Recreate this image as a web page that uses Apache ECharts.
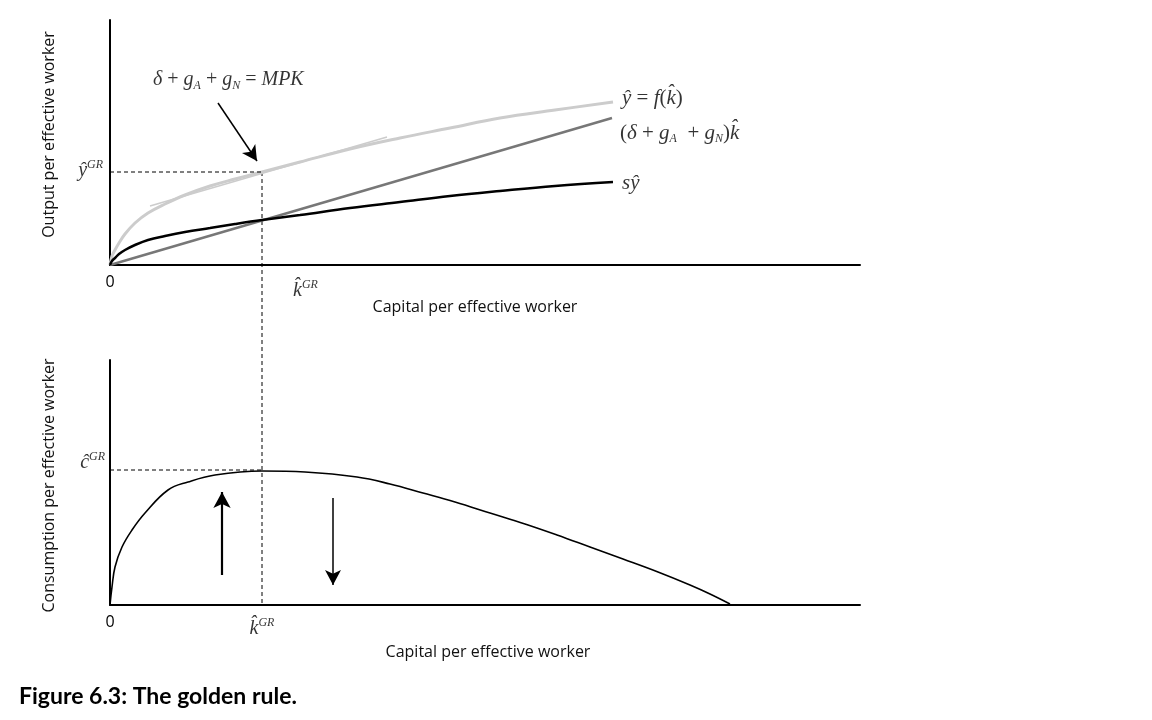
<!DOCTYPE html>
<html><head><meta charset="utf-8">
<script src="https://cdn.jsdelivr.net/npm/echarts@6/dist/echarts.min.js"></script>
<style>html,body{margin:0;padding:0;background:#fff}#c{width:1152px;height:720px}</style>
</head><body><div id="c"></div>
<script>
// ---- data (k = capital per effective worker, arbitrary units) ----
const kF   = [0, 2, 5, 9, 15, 25, 38, 55, 75, 100, 125, 152, 190, 240, 290, 340, 390, 445, 503];
const fOut = [0, 9, 15, 22, 31, 42, 52, 61, 70, 79, 86, 93, 103, 116, 127, 137, 147, 155, 163];
const kS   = [0, 2, 5, 9, 15, 25, 38, 55, 75, 100, 125, 152, 190, 240, 290, 340, 390, 445, 503];
const sOut = [0, 4, 7, 11, 15, 20, 25, 29, 33, 37, 41, 45, 50, 57, 63, 69, 74, 79, 83];
const kDep = [0, 502];
const dep  = [0, 147];
const kTan = [40, 277];
const tanV = [59, 128];
const kC   = [0, 2, 5, 12, 22, 35, 58, 78, 105, 152, 195, 247, 280, 313, 345, 380, 415, 447, 480, 513, 548, 580, 600, 620];
const cons = [0, 18, 38, 58, 75, 92, 115, 123, 130, 134, 133, 128, 121, 112, 103, 92, 81, 70, 58, 46, 33, 20, 11, 1];
const kGR = 152, yGR = 93, cGR = 135;
const xTicks = ['0'];

const zip = (a, b) => a.map((v, i) => [v, b[i]]);
const serif = 'Liberation Serif';
const sans = 'Open Sans';
const HAT = '\u0302';

const richMath = {
  n: { fontStyle: 'normal' },
  s: { fontSize: 12, verticalAlign: 'bottom', lineHeight: 10 },
  p: { fontSize: 12, verticalAlign: 'top', lineHeight: 12 }
};
function lab(value, text, pos, size) {
  return {
    value: value,
    label: {
      show: true, position: pos, distance: 0, formatter: text,
      fontFamily: serif, fontStyle: 'italic', fontSize: size || 21, color: '#000',
      lineHeight: 24, rich: richMath
    }
  };
}
const topLabels = [
  lab([43, 185], '{i|δ} {n|+} g{s|A}{n| + }g{s|N} {n|=} MPK', 'right', 20),
  lab([512, 167], 'y' + HAT + ' {n|=} f{n|(}k' + HAT + '{n|)}', 'right'),
  lab([510, 132], '{n|(}δ {n|+} g{s|A}  {n|+} g{s|N}{n|)}k' + HAT, 'right'),
  lab([512, 82], 'sy' + HAT, 'right'),
  lab([-7, 94], 'y' + HAT + '{p|GR}', 'left', 20),
  lab([183, -26], 'k' + HAT + '{p|GR}', 'right', 20)
];
const botLabels = [
  lab([-5, 142], 'c' + HAT + '{p|GR}', 'left', 20),
  lab([152, -24], 'k' + HAT + '{p|GR}', 'inside', 20)
];

const axisLine = { show: true, onZero: false, lineStyle: { color: '#000', width: 2 } };
function xAx(grid, gap, pad) {
  return {
    type: 'value', gridIndex: grid, min: 0, max: 750, interval: 750,
    axisLine: axisLine, axisTick: { show: false }, splitLine: { show: false },
    axisLabel: { formatter: v => (v === 0 ? xTicks[0] : ''), color: '#000', fontFamily: sans, fontSize: 16, margin: 9 },
    name: 'Capital per effective worker', nameLocation: 'middle', nameGap: gap,
    nameTextStyle: { fontFamily: sans, fontSize: 16, color: '#111', padding: pad }
  };
}
function yAx(grid, name, pad) {
  return {
    type: 'value', gridIndex: grid, min: 0, max: 245,
    axisLine: axisLine, axisTick: { show: false }, splitLine: { show: false }, axisLabel: { show: false },
    name: name, nameLocation: 'middle', nameGap: 53, nameRotate: 90,
    nameTextStyle: { fontFamily: sans, fontSize: 16, color: '#111', padding: pad }
  };
}
function ln(data, color, width, xi, extra) {
  return Object.assign({
    type: 'line', data: data, xAxisIndex: xi, yAxisIndex: xi, showSymbol: false, symbol: 'none',
    smooth: 0.4, lineStyle: { color: color, width: width }, silent: true, z: 3
  }, extra || {});
}
function arrowLine(xi, from, to, width, size) {
  return {
    type: 'line', xAxisIndex: xi, yAxisIndex: xi, data: [], silent: true,
    markLine: {
      silent: true, symbol: ['none', 'arrow'], symbolSize: size,
      label: { show: false },
      lineStyle: { color: '#000', width: width, type: 'solid' },
      data: [[{ coord: from }, { coord: to }]]
    }
  };
}
const dash = { color: '#000', width: 1, type: [4, 3] };

const chart = echarts.init(document.getElementById('c'), null, { renderer: 'canvas' });
chart.setOption({
  animation: false,
  backgroundColor: '#fff',
  grid: [
    { left: 110, top: 20, width: 750, height: 245 },
    { left: 110, top: 360, width: 750, height: 245 }
  ],
  xAxis: [xAx(0, 34, [0, 20, 0, 0]), xAx(1, 39, [0, 0, 0, 6])],
  yAxis: [yAx(0, 'Output per effective worker', [0, 0, 0, 16]), yAx(1, 'Consumption per effective worker', [0, 6, 0, 0])],
  title: {
    text: 'Figure 6.3: The golden rule.', left: 14, top: 680,
    textStyle: { fontFamily: 'Lato', fontWeight: 'bold', fontSize: 23, color: '#000' }
  },
  series: [
    ln(zip(kF, fOut), '#cccccc', 3, 0),
    ln(zip(kTan, tanV), '#cccccc', 1.5, 0, { smooth: false }),
    ln(zip(kDep, dep), '#777777', 2.5, 0, { smooth: false }),
    ln(zip(kS, sOut), '#000000', 2.5, 0),
    ln([[0, yGR], [kGR, yGR]], '#000', 1, 0, { smooth: false, lineStyle: dash }),
    ln(zip(kC, cons), '#000000', 1.6, 1),
    ln([[0, cGR], [kGR, cGR]], '#000', 1, 1, { smooth: false, lineStyle: dash }),
    arrowLine(0, [108, 162], [147, 104], 1.5, [12, 15]),
    arrowLine(1, [112, 30], [112, 113], 2.2, [13, 16]),
    arrowLine(1, [223, 107], [223, 20], 1.5, [12, 15]),
    { type: 'scatter', xAxisIndex: 0, yAxisIndex: 0, symbolSize: 0, clip: false, silent: true, data: topLabels },
    { type: 'scatter', xAxisIndex: 1, yAxisIndex: 1, symbolSize: 0, clip: false, silent: true, data: botLabels }
  ]
});
const p1 = chart.convertToPixel({ gridIndex: 0 }, [kGR, yGR]);
const p2 = chart.convertToPixel({ gridIndex: 1 }, [kGR, 0]);
chart.setOption({
  graphic: [{
    type: 'line', silent: true, z: 2,
    shape: { x1: p1[0], y1: p1[1], x2: p2[0], y2: p2[1] },
    style: { stroke: '#000', lineWidth: 1, lineDash: [4, 3] }
  }]
});
</script></body></html>
